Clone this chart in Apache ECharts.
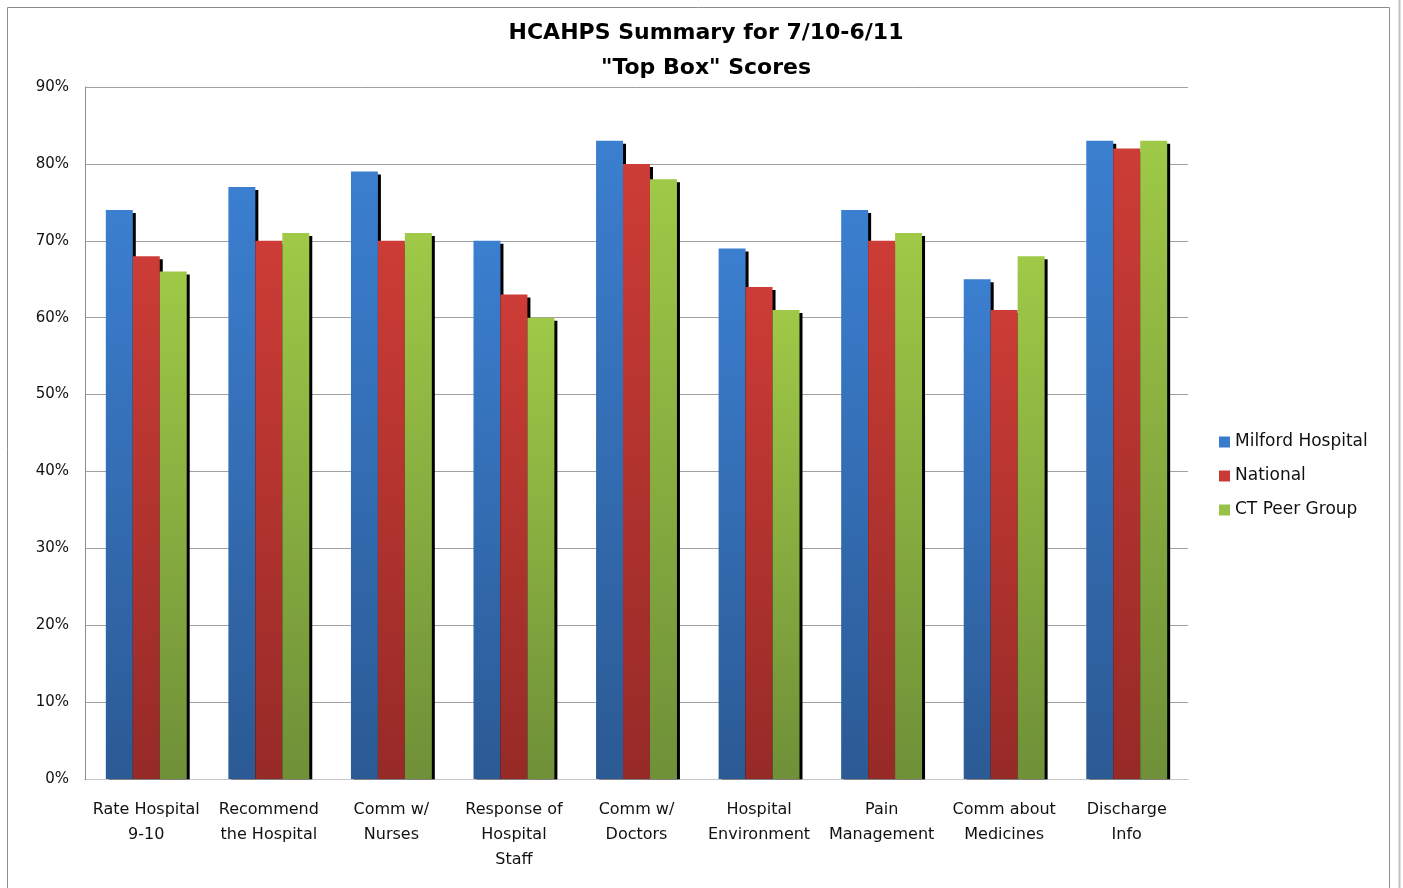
<!DOCTYPE html>
<html>
<head>
<meta charset="utf-8">
<script src="https://cdn.jsdelivr.net/npm/echarts@6/dist/echarts.min.js"></script>
<style>
  html, body { margin: 0; padding: 0; background: #fff; }
  #chart { width: 1403px; height: 888px; }
</style>
</head>
<body>
<div id="chart"></div>
<script>
const categories = [
  'Rate Hospital\n9-10', 'Recommend\nthe Hospital', 'Comm w/\nNurses',
  'Response of\nHospital\nStaff', 'Comm w/\nDoctors', 'Hospital\nEnvironment',
  'Pain\nManagement', 'Comm about\nMedicines', 'Discharge\nInfo'
];
const milford = [74, 77, 79, 70, 83, 69, 74, 65, 83];
const national = [68, 70, 70, 63, 80, 64, 70, 61, 82];
const ctPeer = [66, 71, 71, 60, 78, 61, 71, 68, 83];

const font = 'DejaVu Sans';

function grad(top, bottom) {
  return new echarts.graphic.LinearGradient(0, 0, 0, 1, [
    { offset: 0, color: top },
    { offset: 1, color: bottom }
  ]);
}

function barSeries(name, data, top, bottom) {
  return {
    name: name,
    type: 'bar',
    data: data,
    barGap: '0%',
    barCategoryGap: '34%',
    itemStyle: {
      color: grad(top, bottom),
      shadowColor: '#000',
      shadowBlur: 0,
      shadowOffsetX: 3,
      shadowOffsetY: 3
    }
  };
}

const chart = echarts.init(document.getElementById('chart'));
chart.setOption({
  backgroundColor: '#fff',
  animation: false,
  graphic: [
    { type: 'rect', shape: { x: 7.5, y: 7.5, width: 1382, height: 890 }, style: { fill: 'none', stroke: '#8c8c8c', lineWidth: 1 } },
    { type: 'line', shape: { x1: 1399.5, y1: 0, x2: 1399.5, y2: 888 }, style: { stroke: '#c0c0c0', lineWidth: 2 } },
    // hide the shadow spill below the category axis
    { type: 'rect', z: 100, shape: { x: 86, y: 779.6, width: 1102, height: 5 }, style: { fill: '#fff' } }
  ],
  title: {
    text: 'HCAHPS Summary for 7/10-6/11\n"Top Box" Scores',
    left: 701,
    textAlign: 'center',
    top: 11,
    textStyle: { fontFamily: font, fontWeight: 'bold', fontSize: 22, lineHeight: 35, color: '#000' }
  },
  legend: {
    orient: 'vertical',
    left: 1214,
    top: 428,
    itemWidth: 11,
    itemHeight: 11,
    itemGap: 16,
    textStyle: { fontFamily: font, fontSize: 17, lineHeight: 18, color: '#111' },
    data: [
      { name: 'Milford Hospital', icon: 'rect', itemStyle: { color: '#3a7ccc', shadowColor: 'rgba(0,0,0,0)' } },
      { name: 'National', icon: 'rect', itemStyle: { color: '#c93a35', shadowColor: 'rgba(0,0,0,0)' } },
      { name: 'CT Peer Group', icon: 'rect', itemStyle: { color: '#98c247', shadowColor: 'rgba(0,0,0,0)' } }
    ]
  },
  grid: { left: 85, right: 215, top: 87, bottom: 109 },
  xAxis: {
    type: 'category',
    data: categories,
    axisLine: { lineStyle: { color: '#8c8c8c', width: 1 } },
    axisTick: { show: false },
    axisLabel: { interval: 0, margin: 18, fontFamily: font, fontSize: 16, lineHeight: 25, color: '#111' }
  },
  yAxis: {
    type: 'value',
    min: 0,
    max: 90,
    interval: 10,
    axisLine: { show: true, lineStyle: { color: '#8c8c8c' } },
    axisTick: { show: false },
    splitLine: { lineStyle: { color: '#a0a0a0', width: 1 } },
    axisLabel: { formatter: '{value}%', margin: 16, fontFamily: font, fontSize: 15, color: '#111' }
  },
  series: [
    barSeries('Milford Hospital', milford, '#3b7fd0', '#2b5a94'),
    barSeries('National', national, '#cd3c36', '#962a27'),
    barSeries('CT Peer Group', ctPeer, '#9fc947', '#6f9038')
  ]
});
</script>
</body>
</html>
